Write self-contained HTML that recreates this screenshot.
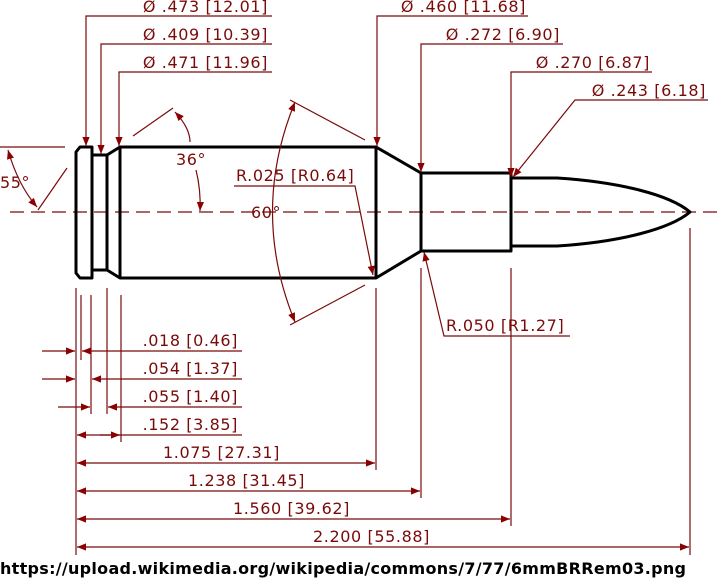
<!DOCTYPE html>
<html><head><meta charset="utf-8"><style>
html,body{margin:0;padding:0;background:#fff;width:725px;height:585px;overflow:hidden}
text{font-family:"DejaVu Sans","Liberation Sans",sans-serif;font-size:16px;letter-spacing:0.6px;fill:#7a0a0a}
.d{stroke:#7a0a0a;stroke-width:1.2;fill:none}
.o{stroke:#000;stroke-width:3;fill:none;stroke-linejoin:round}
</style></head><body>
<svg width="725" height="585" viewBox="0 0 725 585">
<defs><marker id="a" viewBox="0 0 10 10" refX="10" refY="5" markerWidth="15" markerHeight="9" orient="auto-start-reverse" markerUnits="userSpaceOnUse"><path d="M0,1L10,5L0,9z" fill="#8b0000"/></marker></defs>
<g><line class="d" x1="10" y1="212" x2="722" y2="212" stroke-dasharray="14,7"/></g>
<g>
<path class="o" d="M80,147 H92 V278 H80 L76,273 V152 Z"/>
<path class="o" d="M92,155 H107 L120,147 H376 L421,173 H511 V251 H421 L376,278 H120 L107,270 H92"/>
<line class="o" x1="107" y1="155" x2="107" y2="270"/>
<line class="o" x1="120" y1="147" x2="120" y2="278"/>
<line class="o" x1="376" y1="147" x2="376" y2="278"/>
<line class="o" x1="421" y1="173" x2="421" y2="251"/>
<path class="o" d="M511,178 H557 C620,182 670,195 690,212 C670,229 620,242 557,246 H511"/>
</g>
<g>
<path class="d" d="M272,16 H86 V146" marker-end="url(#a)"/><text x="268" y="12" text-anchor="end">Ø .473 [12.01]</text>
<path class="d" d="M272,44 H101 V154" marker-end="url(#a)"/><text x="268" y="40" text-anchor="end">Ø .409 [10.39]</text>
<path class="d" d="M272,72 H119 V146" marker-end="url(#a)"/><text x="268" y="68" text-anchor="end">Ø .471 [11.96]</text>
<path class="d" d="M528,16 H377 V146" marker-end="url(#a)"/><text x="526" y="12" text-anchor="end">Ø .460 [11.68]</text>
<path class="d" d="M563,44 H421 V172" marker-end="url(#a)"/><text x="560" y="40" text-anchor="end">Ø .272 [6.90]</text>
<path class="d" d="M652,72 H511 V177" marker-end="url(#a)"/><text x="650" y="68" text-anchor="end">Ø .270 [6.87]</text>
<path class="d" d="M708,100 H575 L513,177" marker-end="url(#a)"/><text x="706" y="96" text-anchor="end">Ø .243 [6.18]</text>
</g>
<g>
<line class="d" x1="0" y1="147" x2="65" y2="147"/>
<path class="d" d="M8,150 Q18,185 37,207" marker-start="url(#a)" marker-end="url(#a)"/>
<line class="d" x1="38" y1="210" x2="67" y2="168"/><text x="0" y="188">55°</text>
<line class="d" x1="133" y1="136" x2="173" y2="108"/>
<path class="d" d="M175,112 Q190,128 190,142" marker-start="url(#a)"/>
<path class="d" d="M196,170 Q201,190 200,211" marker-end="url(#a)"/><text x="176" y="165">36°</text>
<line class="d" x1="290" y1="100" x2="365" y2="140"/>
<line class="d" x1="290" y1="325" x2="365" y2="285"/>
<path class="d" d="M295,102 Q250,212 295,322" marker-start="url(#a)" marker-end="url(#a)"/><text x="251" y="218">60°</text>
<path class="d" d="M234,186 H355 L373,275" marker-end="url(#a)"/><text x="236" y="181">R.025 [R0.64]</text>
<path class="d" d="M570,336 H444 L424,252" marker-end="url(#a)"/><text x="446" y="331">R.050 [R1.27]</text>
</g>
<g>
<line class="d" x1="76" y1="288" x2="76" y2="555"/>
<line class="d" x1="81" y1="295" x2="81" y2="360"/>
<line class="d" x1="91" y1="295" x2="91" y2="414"/>
<line class="d" x1="107" y1="288" x2="107" y2="414"/>
<line class="d" x1="121" y1="295" x2="121" y2="442"/>
<line class="d" x1="376" y1="288" x2="376" y2="470"/>
<line class="d" x1="421" y1="268" x2="421" y2="498"/>
<line class="d" x1="511" y1="268" x2="511" y2="526"/>
<line class="d" x1="690" y1="228" x2="690" y2="555"/>
</g>
<g>
<line class="d" x1="42" y1="351" x2="75" y2="351" marker-end="url(#a)"/><line class="d" x1="242" y1="351" x2="82" y2="351" marker-end="url(#a)"/><text x="238" y="346" text-anchor="end">.018 [0.46]</text>
<line class="d" x1="42" y1="379" x2="75" y2="379" marker-end="url(#a)"/><line class="d" x1="242" y1="379" x2="92" y2="379" marker-end="url(#a)"/><text x="238" y="374" text-anchor="end">.054 [1.37]</text>
<line class="d" x1="58" y1="407" x2="90" y2="407" marker-end="url(#a)"/><line class="d" x1="242" y1="407" x2="108" y2="407" marker-end="url(#a)"/><text x="238" y="402" text-anchor="end">.055 [1.40]</text>
<line class="d" x1="77" y1="435" x2="98" y2="435" marker-start="url(#a)"/><line class="d" x1="98" y1="435" x2="242" y2="435"/><line class="d" x1="100" y1="435" x2="120" y2="435" marker-end="url(#a)"/><text x="238" y="430" text-anchor="end">.152 [3.85]</text>
<line class="d" x1="77" y1="463" x2="375" y2="463" marker-start="url(#a)" marker-end="url(#a)"/><text x="163" y="458">1.075 [27.31]</text>
<line class="d" x1="77" y1="491" x2="420" y2="491" marker-start="url(#a)" marker-end="url(#a)"/><text x="188" y="486">1.238 [31.45]</text>
<line class="d" x1="77" y1="519" x2="510" y2="519" marker-start="url(#a)" marker-end="url(#a)"/><text x="233" y="514">1.560 [39.62]</text>
<line class="d" x1="77" y1="547" x2="689" y2="547" marker-start="url(#a)" marker-end="url(#a)"/><text x="313" y="542">2.200 [55.88]</text>
</g>
<text x="0" y="574" textLength="686" style="fill:#000;font-size:16px;font-weight:bold;letter-spacing:0">https://upload.wikimedia.org/wikipedia/commons/7/77/6mmBRRem03.png</text>
</svg>
</body></html>
